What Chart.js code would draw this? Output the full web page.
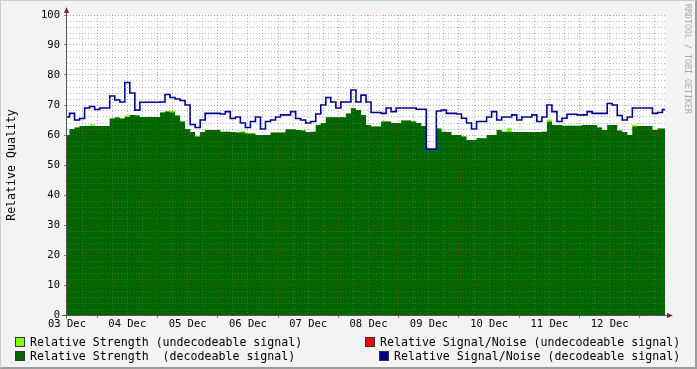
<!DOCTYPE html>
<html>
<head>
<meta charset="utf-8">
<script src="https://cdn.jsdelivr.net/npm/chart.js@4/dist/chart.umd.min.js"></script>
<style>
  html, body { margin: 0; padding: 0; background: #f3f3f3; }
  #wrap { position: relative; width: 697px; height: 369px; overflow: hidden; background: #f3f3f3; }
  #chart { position: absolute; left: 0; top: 0; }
  #frame { position: absolute; left: 0; top: 0; width: 697px; height: 369px; box-sizing: border-box;
           border-top: 1px solid #cbcbcb; border-left: 1px solid #cbcbcb;
           border-right: 2px solid #9b9b9b; border-bottom: 2px solid #9b9b9b; pointer-events: none; }
  .lg { position: absolute; font: 11.6px "DejaVu Sans Mono", monospace; line-height: 12px; white-space: pre; color: #000; }
  .sw { position: absolute; width: 10px; height: 10px; box-sizing: border-box; border: 1px solid #333; }
</style>
</head>
<body>
<div id="wrap">
  <canvas id="chart" width="697" height="369"></canvas>
  <div id="legend"></div>
  <div id="frame"></div>
</div>
<script>
// time axis: hours since 03 Dec 00:00, one sample every 2 hours
const startHour = 0;
const stepHours = 2;
const endHour = 238;
const dayLabels = ["03 Dec", "04 Dec", "05 Dec", "06 Dec", "07 Dec",
                   "08 Dec", "09 Dec", "10 Dec", "11 Dec", "12 Dec"];

// Relative Strength (decodeable signal)
const strength = [
  60, 62, 62.5, 63, 63, 63, 63, 63, 63, 65.5, 65.8, 65.5, 66, 66.7, 66.5, 66, 66, 66, 66, 67.5, 67.8, 67.5, 66.5, 64.5,
  62, 61, 59.5, 61, 61.7, 61.7, 61.7, 61.1, 61.1, 61, 60.8, 60.8, 60.5, 60.5, 60, 60, 60, 60.8, 60.8, 60.8, 61.9, 61.9, 61.7,
  61.5, 61, 61.1, 63.3, 64, 65.9, 65.9, 65.9, 65.9, 67.2, 68.9, 68.3, 66.7, 63.3, 62.8, 62.8, 64.5, 64.5, 64, 64, 64.8, 64.8, 64.5, 64,
  63, 55, 55, 62.2, 61.1, 61, 60, 60, 59.5, 58.3, 58.3, 58.9, 58.9, 60, 60, 61.7, 61.1, 61.1, 61, 61, 61, 61, 61, 61,
  61.1, 64.4, 63.3, 63.3, 63.1, 63.1, 63.1, 63.1, 63.3, 63.3, 63.3, 62.5, 61.7, 63.3, 63.3, 61.5, 61, 60, 62.8, 63, 63, 63, 61.7, 62.2, 62.2
];

// Relative Strength (undecodeable signal), stacked on top of the decodeable part
const strengthUndecodeable = [
  0, 0, 0, 0, 0, 0.6, 0, 0, 0, 0, 0, 0, 0.5, 0, 0, 0, 0, 0, 0, 0, 0, 0.6, 0, 0,
  0, 0, 0, 0, 0, 0, 0, 0, 0, 0, 0, 0.5, 0, 0, 0, 0, 0, 0, 0, 0, 0, 0, 0,
  0, 0, 0, 0, 0, 0, 0, 0, 0, 0, 0, 0, 0, 0, 0, 0, 0, 0, 0, 0, 0, 0, 0, 0,
  0, 0, 0, 0, 0, 0, 0, 0, 0, 0, 0, 0, 0, 0, 0, 0, 0, 1.2, 0, 0, 0, 0, 0, 0,
  0, 0.8, 0, 0, 0, 0, 0, 0, 0, 0, 0, 0, 0, 0, 0, 0, 0, 0, 0.5, 0, 0, 0, 0, 0, 0
];

// Relative Signal/Noise (decodeable signal)
const signalNoise = [
  66, 67.2, 65, 65.5, 69, 69.5, 68.5, 69, 69, 73, 71.7, 71, 77.5, 74, 68.3, 70.9, 70.9, 70.9, 70.9, 71, 73.5, 72.5, 72, 71.5,
  70, 63.5, 62.5, 65, 67.2, 67.2, 67.2, 67, 67.8, 65.5, 66, 64, 62.5, 64.5, 66, 62, 64.5, 65, 66, 66.7, 66.7, 67.8, 65.5,
  65, 64, 64.5, 67, 70, 72.5, 71, 69, 71, 71, 75, 71, 73.3, 71, 67.5, 67.5, 67.2, 69, 67.8, 69, 69, 69, 69, 68.6,
  68.6, 55.3, 55.3, 68, 68.3, 67.2, 67.2, 67, 65.6, 64, 62, 64.5, 64.5, 66, 67.8, 65, 66, 66, 66.7, 65, 66, 66, 66.7, 64.5,
  66, 70, 67.8, 64.5, 65.6, 66.9, 66.9, 66.7, 66.7, 67.8, 67.2, 67.2, 67.2, 70.5, 70, 66.5, 65, 66, 69, 69, 69, 69, 67.2, 67.5, 68.5
];

// Relative Signal/Noise (undecodeable signal): nothing in this period
const signalNoiseUndecodeable = [];

const legendItems = [
  { text: "Relative Strength (undecodeable signal)", color: "#80ff00", x: 15, y: 337, tx: 30 },
  { text: "Relative Signal/Noise (undecodeable signal)", color: "#ff0000", x: 365, y: 337, tx: 380 },
  { text: "Relative Strength  (decodeable signal)", color: "#006600", x: 15, y: 351, tx: 30 },
  { text: "Relative Signal/Noise (decodeable signal)", color: "#000090", x: 379, y: 351, tx: 394 }
];

const hours = strength.map((_, i) => startHour + i * stepHours);
const toPoints = (arr) => arr.map((v, i) => ({ x: hours[i], y: v }));

// html legend, laid out like the rrdtool one
const legendEl = document.getElementById("legend");
legendItems.forEach((item) => {
  const sw = document.createElement("div");
  sw.className = "sw";
  sw.style.left = item.x + "px";
  sw.style.top = item.y + "px";
  sw.style.background = item.color;
  legendEl.appendChild(sw);
  const t = document.createElement("div");
  t.className = "lg";
  t.style.left = item.tx + "px";
  t.style.top = item.y - 1 + "px";
  t.textContent = item.text;
  legendEl.appendChild(t);
});

const MONO = '"DejaVu Sans Mono", monospace';

// grid over the data, axes with arrows, titles
const rrdDecor = {
  id: "rrdDecor",
  beforeDraw(chart) {
    const { ctx, chartArea: a } = chart;
    ctx.save();
    ctx.fillStyle = "#ffffff";
    ctx.fillRect(a.left, a.top, a.right - a.left, a.bottom - a.top);
    ctx.restore();
  },
  afterDatasetsDraw(chart) {
    const { ctx, chartArea: a, scales } = chart;
    const xs = scales.x, ys = scales.y;
    ctx.save();
    ctx.lineWidth = 1;
    ctx.setLineDash([1, 2]);
    for (let v = 2; v <= 100; v += 2) {
      const py = Math.floor(ys.getPixelForValue(v)) + 0.5;
      ctx.strokeStyle = v % 10 === 0 ? "rgba(170,40,40,0.45)" : "rgba(120,120,120,0.5)";
      ctx.beginPath();
      ctx.moveTo(a.left, py);
      ctx.lineTo(a.right, py);
      ctx.stroke();
    }
    for (let h = 6; h <= endHour; h += 6) {
      const px = Math.floor(xs.getPixelForValue(h)) + 0.5;
      ctx.strokeStyle = h % 24 === 12 ? "rgba(170,40,40,0.45)" : "rgba(120,120,120,0.5)";
      ctx.beginPath();
      ctx.moveTo(px, a.top);
      ctx.lineTo(px, a.bottom);
      ctx.stroke();
    }
    ctx.setLineDash([]);

    // small ticks on the axes
    ctx.strokeStyle = "rgba(170,40,40,0.7)";
    for (let h = 12; h <= endHour; h += 24) {
      const px = Math.floor(xs.getPixelForValue(h)) + 0.5;
      ctx.beginPath();
      ctx.moveTo(px, a.bottom);
      ctx.lineTo(px, a.bottom + 3);
      ctx.stroke();
    }
    for (let v = 0; v <= 100; v += 10) {
      const py = Math.floor(ys.getPixelForValue(v)) + 0.5;
      ctx.beginPath();
      ctx.moveTo(a.left - 3, py);
      ctx.lineTo(a.left, py);
      ctx.stroke();
    }

    // axes
    const x0 = Math.floor(a.left) - 0.5;
    const y0 = Math.floor(a.bottom) + 0.5;
    ctx.strokeStyle = "#555555";
    ctx.beginPath();
    ctx.moveTo(x0, y0 + 3);
    ctx.lineTo(x0, a.top - 5);
    ctx.moveTo(a.left - 5, y0);
    ctx.lineTo(a.right + 4, y0);
    ctx.stroke();

    // arrows
    ctx.fillStyle = "#7f1f1f";
    ctx.beginPath();
    ctx.moveTo(x0, a.top - 8);
    ctx.lineTo(x0 - 2.5, a.top - 2);
    ctx.lineTo(x0 + 2.5, a.top - 2);
    ctx.closePath();
    ctx.fill();
    ctx.beginPath();
    ctx.moveTo(a.right + 8, y0);
    ctx.lineTo(a.right + 2, y0 - 2.5);
    ctx.lineTo(a.right + 2, y0 + 2.5);
    ctx.closePath();
    ctx.fill();
    ctx.restore();
  },
  afterDraw(chart) {
    const { ctx, chartArea: a } = chart;
    ctx.save();
    // y axis title
    ctx.fillStyle = "#000000";
    ctx.font = "11.6px " + MONO;
    ctx.textAlign = "center";
    ctx.textBaseline = "middle";
    ctx.translate(12, (a.top + a.bottom) / 2);
    ctx.rotate(-Math.PI / 2);
    ctx.fillText("Relative Quality", 0, 0);
    ctx.restore();

    // watermark
    ctx.save();
    ctx.fillStyle = "#aaaaaa";
    ctx.font = "8.3px " + MONO;
    ctx.textAlign = "left";
    ctx.textBaseline = "middle";
    ctx.translate(687, 4);
    ctx.rotate(Math.PI / 2);
    ctx.fillText("RRDTOOL / TOBI OETIKER", 0, 0);
    ctx.restore();
  }
};

const ctx = document.getElementById("chart").getContext("2d");
const chart = new Chart(ctx, {
  type: "line",
  data: {
    datasets: [
      {
        label: "Relative Signal/Noise (decodeable signal)",
        data: toPoints(signalNoise),
        borderColor: "#000090",
        borderWidth: 1.6,
        pointRadius: 0,
        stepped: "middle",
        fill: false,
        order: 0
      },
      {
        label: "Relative Signal/Noise (undecodeable signal)",
        data: toPoints(signalNoiseUndecodeable),
        borderColor: "#ff0000",
        borderWidth: 2,
        pointRadius: 0,
        fill: false,
        order: 1
      },
      {
        label: "Relative Strength  (decodeable signal)",
        data: toPoints(strength),
        borderWidth: 0,
        borderColor: "rgba(0,0,0,0)",
        backgroundColor: "#006600",
        pointRadius: 0,
        stepped: "middle",
        fill: "origin",
        order: 2
      },
      {
        label: "Relative Strength (undecodeable signal)",
        data: strength.map((v, i) => ({ x: hours[i], y: v + strengthUndecodeable[i] })),
        borderWidth: 0,
        borderColor: "rgba(0,0,0,0)",
        backgroundColor: "#80ff00",
        pointRadius: 0,
        stepped: "middle",
        fill: "origin",
        order: 3
      }
    ]
  },
  options: {
    responsive: false,
    animation: false,
    layout: { padding: { top: 15, right: 32, bottom: 34, left: 0 } },
    plugins: { legend: { display: false }, tooltip: { enabled: false } },
    scales: {
      x: {
        type: "linear",
        min: startHour,
        max: endHour,
        grid: { display: false, drawTicks: false },
        border: { display: false },
        afterBuildTicks: (scale) => {
          scale.ticks = dayLabels.map((_, i) => ({ value: i * 24 }));
        },
        afterFit: (scale) => { scale.height = 20; },
        ticks: {
          autoSkip: false,
          maxRotation: 0,
          padding: 3,
          color: "#000000",
          font: { family: MONO, size: 10.5 },
          callback: (v) => dayLabels[Math.round(v / 24)]
        }
      },
      y: {
        min: 0,
        max: 100,
        grid: { display: false, drawTicks: false },
        border: { display: false },
        afterBuildTicks: (scale) => {
          const t = [];
          for (let v = 0; v <= 100; v += 10) t.push({ value: v });
          scale.ticks = t;
        },
        afterFit: (scale) => { scale.width = 67; },
        ticks: {
          padding: 7,
          color: "#000000",
          font: { family: MONO, size: 10.5 }
        }
      }
    }
  },
  plugins: [rrdDecor]
});
</script>
</body>
</html>
